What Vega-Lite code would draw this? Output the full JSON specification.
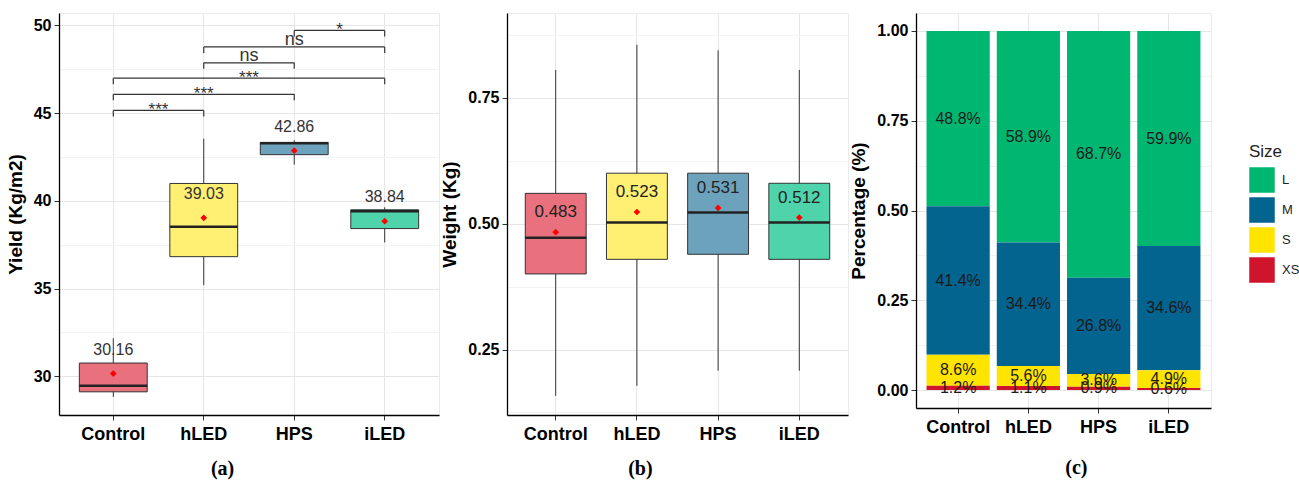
{
  "$schema": "https://vega.github.io/schema/vega-lite/v6.json",
  "padding": {"left": 5, "top": 12, "right": 0, "bottom": 0},
  "datasets": {
    "yield": [
      {"Treatment": "Control", "lower": 28.83, "q1": 29.12, "median": 29.46, "q3": 30.76, "upper": 32.17, "mean": 30.16},
      {"Treatment": "hLED", "lower": 35.2, "q1": 36.82, "median": 38.53, "q3": 40.99, "upper": 43.54, "mean": 39.03},
      {"Treatment": "HPS", "lower": 42.06, "q1": 42.63, "median": 43.28, "q3": 43.33, "upper": 43.45, "mean": 42.86},
      {"Treatment": "iLED", "lower": 37.63, "q1": 38.42, "median": 39.4, "q3": 39.49, "upper": 39.63, "mean": 38.84}
    ],
    "sig": [
      {"x1": 1, "x2": 2, "xm": 1.5, "y": 45.15, "label": "***"},
      {"x1": 1, "x2": 3, "xm": 2, "y": 46.07, "label": "***"},
      {"x1": 1, "x2": 4, "xm": 2.5, "y": 46.99, "label": "***"},
      {"x1": 2, "x2": 3, "xm": 2.5, "y": 47.86, "label": "ns"},
      {"x1": 2, "x2": 4, "xm": 3, "y": 48.77, "label": "ns"},
      {"x1": 3, "x2": 4, "xm": 3.5, "y": 49.71, "label": "*"}
    ],
    "weight": [
      {"Treatment": "Control", "lower": 0.158, "q1": 0.4, "median": 0.472, "q3": 0.56, "upper": 0.805, "mean": 0.483},
      {"Treatment": "hLED", "lower": 0.178, "q1": 0.429, "median": 0.502, "q3": 0.6, "upper": 0.855, "mean": 0.523},
      {"Treatment": "HPS", "lower": 0.208, "q1": 0.439, "median": 0.522, "q3": 0.6, "upper": 0.844, "mean": 0.531},
      {"Treatment": "iLED", "lower": 0.208, "q1": 0.429, "median": 0.502, "q3": 0.58, "upper": 0.805, "mean": 0.512}
    ],
    "size": [
      {"Treatment": "Control", "Size": "L", "share": 0.488},
      {"Treatment": "Control", "Size": "M", "share": 0.414},
      {"Treatment": "Control", "Size": "S", "share": 0.086},
      {"Treatment": "Control", "Size": "XS", "share": 0.012},
      {"Treatment": "hLED", "Size": "L", "share": 0.589},
      {"Treatment": "hLED", "Size": "M", "share": 0.344},
      {"Treatment": "hLED", "Size": "S", "share": 0.056},
      {"Treatment": "hLED", "Size": "XS", "share": 0.011},
      {"Treatment": "HPS", "Size": "L", "share": 0.687},
      {"Treatment": "HPS", "Size": "M", "share": 0.268},
      {"Treatment": "HPS", "Size": "S", "share": 0.036},
      {"Treatment": "HPS", "Size": "XS", "share": 0.009},
      {"Treatment": "iLED", "Size": "L", "share": 0.599},
      {"Treatment": "iLED", "Size": "M", "share": 0.346},
      {"Treatment": "iLED", "Size": "S", "share": 0.049},
      {"Treatment": "iLED", "Size": "XS", "share": 0.006}
    ]
  },
  "hconcat": [
    {
      "spacing": 0,
      "hconcat": [
        {
          "width": 380,
          "height": 402,
          "title": {"text": "(a)", "orient": "bottom", "anchor": "middle", "frame": "bounds", "font": "Liberation Serif", "fontSize": 20, "fontWeight": "bold", "color": "#000", "offset": 16},
          "resolve": {"scale": {"x": "independent"}},
          "layer": [
            {
              "data": {"name": "yield"},
              "layer": [
                {
                  "mark": {"type": "rule", "color": "#333", "strokeWidth": 1},
                  "encoding": {
                    "x": {"field": "Treatment", "type": "nominal", "title": null, "scale": {"domain": ["Control", "hLED", "HPS", "iLED"], "paddingInner": 0.25, "paddingOuter": 0.225}, "axis": {"labelAngle": 0, "grid": true, "bandPosition": 0.5}},
                    "y": {"field": "lower", "type": "quantitative", "title": "Yield (Kg/m2)", "scale": {"domain": [27.8, 50.7], "nice": false, "zero": false},
                      "axis": {"values": [30, 32.5, 35, 37.5, 40, 42.5, 45, 47.5, 50], "labelExpr": "datum.value % 5 === 0 ? datum.label : ''", "format": "d",
                        "tickOpacity": {"condition": {"test": "datum.value % 5 === 0", "value": 1}, "value": 0},
                        "gridColor": {"condition": {"test": "datum.value % 5 === 0", "value": "#E6E6E6"}, "value": "#F3F3F3"}}},
                    "y2": {"field": "upper"}
                  }
                },
                {
                  "mark": {"type": "bar", "stroke": "#333", "strokeWidth": 1},
                  "encoding": {
                    "x": {"field": "Treatment", "type": "nominal", "title": null, "scale": {"domain": ["Control", "hLED", "HPS", "iLED"], "paddingInner": 0.25, "paddingOuter": 0.225}},
                    "y": {"field": "q1", "type": "quantitative", "title": "Yield (Kg/m2)"},
                    "y2": {"field": "q3"},
                    "fill": {"field": "Treatment", "type": "nominal", "legend": null, "scale": {"domain": ["Control", "hLED", "HPS", "iLED"], "range": ["#E8717D", "#FFEF72", "#6CA2BC", "#4FD3AB"]}}
                  }
                },
                {
                  "mark": {"type": "tick", "orient": "horizontal", "size": 68, "thickness": 2.5, "color": "#222", "opacity": 1},
                  "encoding": {
                    "x": {"field": "Treatment", "type": "nominal", "title": null},
                    "y": {"field": "median", "type": "quantitative", "title": "Yield (Kg/m2)"}
                  }
                },
                {
                  "mark": {"type": "point", "shape": "diamond", "filled": true, "color": "#FF0000", "size": 45, "opacity": 1},
                  "encoding": {
                    "x": {"field": "Treatment", "type": "nominal", "title": null},
                    "y": {"field": "mean", "type": "quantitative", "title": "Yield (Kg/m2)"}
                  }
                },
                {
                  "mark": {"type": "text", "dy": -24, "fontSize": 16, "color": "#333", "font": "Liberation Sans"},
                  "encoding": {
                    "x": {"field": "Treatment", "type": "nominal", "title": null},
                    "y": {"field": "mean", "type": "quantitative", "title": "Yield (Kg/m2)"},
                    "text": {"field": "mean", "type": "quantitative", "format": ".2f"}
                  }
                }
              ]
            },
            {
              "data": {"name": "sig"},
              "layer": [
                {
                  "mark": {"type": "rule", "color": "#333", "strokeWidth": 1.2},
                  "encoding": {
                    "x": {"field": "x1", "type": "quantitative", "axis": null, "scale": {"domain": [0.4, 4.6], "nice": false, "zero": false}},
                    "x2": {"field": "x2"},
                    "y": {"field": "y", "type": "quantitative", "title": "Yield (Kg/m2)"}
                  }
                },
                {
                  "mark": {"type": "rule", "color": "#333", "strokeWidth": 1.2, "y2Offset": 6},
                  "encoding": {
                    "x": {"field": "x1", "type": "quantitative", "axis": null},
                    "y": {"field": "y", "type": "quantitative", "title": "Yield (Kg/m2)"},
                    "y2": {"field": "y"}
                  }
                },
                {
                  "mark": {"type": "rule", "color": "#333", "strokeWidth": 1.2, "y2Offset": 6},
                  "encoding": {
                    "x": {"field": "x2", "type": "quantitative", "axis": null},
                    "y": {"field": "y", "type": "quantitative", "title": "Yield (Kg/m2)"},
                    "y2": {"field": "y"}
                  }
                },
                {
                  "transform": [{"filter": "datum.label === 'ns'"}],
                  "mark": {"type": "text", "baseline": "alphabetic", "dy": -2, "fontSize": 18, "color": "#333", "font": "Liberation Sans"},
                  "encoding": {
                    "x": {"field": "xm", "type": "quantitative", "axis": null},
                    "y": {"field": "y", "type": "quantitative", "title": "Yield (Kg/m2)"},
                    "text": {"field": "label"}
                  }
                },
                {
                  "transform": [{"filter": "datum.label !== 'ns'"}],
                  "mark": {"type": "text", "baseline": "alphabetic", "dy": 5, "fontSize": 17, "color": "#333", "font": "Liberation Sans"},
                  "encoding": {
                    "x": {"field": "xm", "type": "quantitative", "axis": null},
                    "y": {"field": "y", "type": "quantitative", "title": "Yield (Kg/m2)"},
                    "text": {"field": "label"}
                  }
                }
              ]
            }
          ]
        },
        {
          "width": 341,
          "height": 402,
          "data": {"name": "weight"},
          "title": {"text": "(b)", "orient": "bottom", "anchor": "middle", "frame": "bounds", "font": "Liberation Serif", "fontSize": 20, "fontWeight": "bold", "color": "#000", "offset": 16, "dx": -4},
          "layer": [
            {
              "mark": {"type": "rule", "color": "#333", "strokeWidth": 1},
              "encoding": {
                "x": {"field": "Treatment", "type": "nominal", "title": null, "scale": {"domain": ["Control", "hLED", "HPS", "iLED"], "paddingInner": 0.25, "paddingOuter": 0.225}, "axis": {"labelAngle": 0, "grid": true, "bandPosition": 0.5}},
                "y": {"field": "lower", "type": "quantitative", "title": "Weight (Kg)", "scale": {"domain": [0.12, 0.918], "nice": false, "zero": false},
                  "axis": {"values": [0.125, 0.25, 0.375, 0.5, 0.625, 0.75, 0.875], "format": ".2f",
                    "labelExpr": "round(datum.value*1000) % 250 === 0 ? datum.label : ''",
                    "tickOpacity": {"condition": {"test": "round(datum.value*1000) % 250 === 0", "value": 1}, "value": 0},
                    "gridColor": {"condition": {"test": "round(datum.value*1000) % 250 === 0", "value": "#E6E6E6"}, "value": "#F3F3F3"}}},
                "y2": {"field": "upper"}
              }
            },
            {
              "mark": {"type": "bar", "stroke": "#333", "strokeWidth": 1},
              "encoding": {
                "x": {"field": "Treatment", "type": "nominal", "title": null},
                "y": {"field": "q1", "type": "quantitative", "title": "Weight (Kg)"},
                "y2": {"field": "q3"},
                "fill": {"field": "Treatment", "type": "nominal", "legend": null, "scale": {"domain": ["Control", "hLED", "HPS", "iLED"], "range": ["#E8717D", "#FFEF72", "#6CA2BC", "#4FD3AB"]}}
              }
            },
            {
              "mark": {"type": "tick", "orient": "horizontal", "size": 61, "thickness": 2.5, "color": "#222", "opacity": 1},
              "encoding": {
                "x": {"field": "Treatment", "type": "nominal", "title": null},
                "y": {"field": "median", "type": "quantitative", "title": "Weight (Kg)"}
              }
            },
            {
              "mark": {"type": "point", "shape": "diamond", "filled": true, "color": "#FF0000", "size": 45, "opacity": 1},
              "encoding": {
                "x": {"field": "Treatment", "type": "nominal", "title": null},
                "y": {"field": "mean", "type": "quantitative", "title": "Weight (Kg)"}
              }
            },
            {
              "mark": {"type": "text", "dy": -20, "fontSize": 17, "color": "#222", "font": "Liberation Sans"},
              "encoding": {
                "x": {"field": "Treatment", "type": "nominal", "title": null},
                "y": {"field": "mean", "type": "quantitative", "title": "Weight (Kg)"},
                "text": {"field": "mean", "type": "quantitative", "format": ".3f"}
              }
            }
          ]
        }
      ]
    },
    {
      "width": 295,
      "height": 395,
      "data": {"name": "size"},
      "title": {"text": "(c)", "orient": "bottom", "anchor": "middle", "frame": "bounds", "font": "Liberation Serif", "fontSize": 20, "fontWeight": "bold", "color": "#000", "offset": 22, "dx": 46},
      "layer": [
        {
          "mark": {"type": "bar"},
          "encoding": {
            "x": {"field": "Treatment", "type": "nominal", "title": null, "scale": {"domain": ["Control", "hLED", "HPS", "iLED"], "paddingInner": 0.1, "paddingOuter": 0.15}, "axis": {"labelAngle": 0, "grid": true, "bandPosition": 0.5}},
            "y": {"field": "share", "type": "quantitative", "stack": "zero", "title": "Percentage (%)", "scale": {"domain": [-0.05, 1.05], "nice": false, "zero": false},
              "axis": {"values": [0, 0.125, 0.25, 0.375, 0.5, 0.625, 0.75, 0.875, 1], "format": ".2f",
                "labelExpr": "round(datum.value*1000) % 250 === 0 ? datum.label : ''",
                "tickOpacity": {"condition": {"test": "round(datum.value*1000) % 250 === 0", "value": 1}, "value": 0},
                "gridColor": {"condition": {"test": "round(datum.value*1000) % 250 === 0", "value": "#E6E6E6"}, "value": "#F3F3F3"}}},
            "color": {"field": "Size", "type": "nominal", "scale": {"domain": ["L", "M", "S", "XS"], "range": ["#00B772", "#02648F", "#FFE400", "#D0142C"]},
              "legend": {"title": "Size", "orient": "none", "legendX": 1190, "legendY": 131, "symbolType": "square", "symbolSize": 650, "symbolStrokeWidth": 0, "symbolOpacity": 1, "labelFontSize": 13, "labelFont": "Liberation Sans", "titleFont": "Liberation Sans", "titleFontSize": 17, "titleFontWeight": "normal", "rowPadding": 4, "labelOffset": 7, "titlePadding": 6, "titleColor": "#222", "labelColor": "#222"}},
            "order": {"field": "Size", "sort": "descending"}
          }
        },
        {
          "mark": {"type": "text", "fontSize": 16, "color": "#1a1a1a", "font": "Liberation Sans", "baseline": "middle"},
          "encoding": {
            "x": {"field": "Treatment", "type": "nominal", "title": null},
            "y": {"field": "share", "type": "quantitative", "stack": "zero", "bandPosition": 0.5, "title": "Percentage (%)"},
            "detail": {"field": "Size"},
            "order": {"field": "Size", "sort": "descending"},
            "text": {"field": "share", "type": "quantitative", "format": ".1%"}
          }
        }
      ]
    }
  ],
  "spacing": 0,
  "config": {
    "view": {"stroke": "#EBEBEB"},
    "axis": {
      "domainColor": "#000", "domainWidth": 1.3, "tickColor": "#333", "tickSize": 5, "labelPadding": 3,
      "labelFont": "Liberation Sans", "labelFontWeight": "bold", "labelColor": "#000",
      "titleFont": "Liberation Sans", "titleFontWeight": "bold", "titleFontSize": 19, "titleColor": "#000",
      "gridColor": "#E6E6E6"
    },
    "axisX": {"labelFontSize": 18, "labelAngle": 0, "labelPadding": 5},
    "axisY": {"labelFontSize": 16, "titlePadding": 8}
  }
}
